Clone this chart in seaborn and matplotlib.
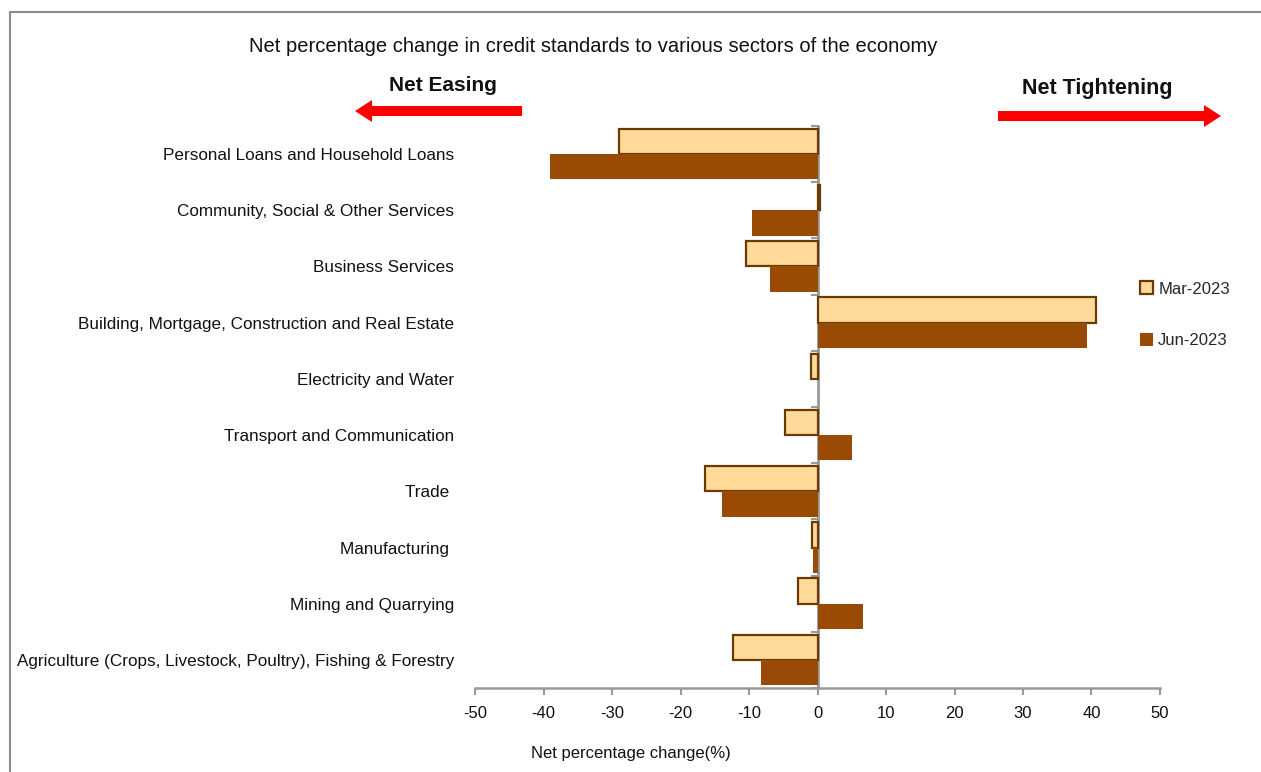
import pandas as pd
import seaborn as sns
import matplotlib.pyplot as plt
from matplotlib.patches import Rectangle, Patch, FancyArrow

sns.set_theme(style="white")
plt.rcParams['font.family'] = ['Liberation Sans Narrow', 'Liberation Sans', 'DejaVu Sans']

# Data
sectors = [
    "Personal Loans and Household Loans",
    "Community, Social & Other Services",
    "Business Services",
    "Building, Mortgage, Construction and Real Estate",
    "Electricity and Water",
    "Transport and Communication",
    "Trade ",
    "Manufacturing ",
    "Mining and Quarrying",
    "Agriculture (Crops, Livestock, Poultry), Fishing & Forestry",
]
mar_2023 = [-29.0, 0.4, -10.4, 40.6, -0.9, -4.8, -16.4, -0.8, -2.8, -12.4]
jun_2023 = [-39.0, -9.6, -6.9, 39.3, 0.0, 5.0, -14.0, -0.6, 6.6, -8.2]
periods = ["Mar-2023", "Jun-2023"]
xticks = list(range(-50, 51, 10))

df = pd.DataFrame({
    "sector": sectors * 2,
    "value": mar_2023 + jun_2023,
    "period": [periods[0]] * len(sectors) + [periods[1]] * len(sectors),
})

fill_mar = "#FFDA99"
fill_jun = "#994A04"
edge_dark = "#6B3A00"
axis_grey = "#999999"

fig = plt.figure(figsize=(12.61, 7.72), dpi=100)
ax = fig.add_axes([0.3767, 0.1088, 0.5432, 0.728])

sns.barplot(data=df, x="value", y="sector", hue="period", orient="h",
            palette=[fill_mar, fill_jun], width=0.9, ax=ax, legend=False,
            saturation=1)

# edge only on Mar bars
for bar in ax.containers[0]:
    bar.set_edgecolor(edge_dark)
    bar.set_linewidth(1.6)
for bar in ax.containers[1]:
    bar.set_edgecolor("none")

ax.set_xlim(-50, 50)
ax.set_ylim(len(sectors) - 0.5, -0.5)
ax.set_xticks(xticks)
ax.set_xticklabels([str(t) for t in xticks], fontsize=12)
ax.tick_params(axis="x", bottom=True, direction="out", length=5, width=1.5,
               color=axis_grey, pad=8)
ax.tick_params(axis="y", left=False, length=0, pad=15, labelsize=12.3)
for lbl in ax.get_yticklabels() + ax.get_xticklabels():
    lbl.set_color("#111111")

for side in ["top", "right", "left"]:
    ax.spines[side].set_visible(False)
ax.spines["bottom"].set_color(axis_grey)
ax.spines["bottom"].set_linewidth(1.8)

# zero axis with ticks between categories
zax = ax.secondary_yaxis(0.5)
zax.set_alignment("left")
zax.set_yticks([i - 0.5 for i in range(len(sectors) + 1)])
zax.set_yticklabels([])
zax.tick_params(axis="y", direction="out", length=5, width=1.5, color=axis_grey)
for side in ["left", "right"]:
    zax.spines[side].set_color(axis_grey)
    zax.spines[side].set_linewidth(2)

ax.set_ylabel("")
ax.set_xlabel("Net percentage change(%)", fontsize=12, color="#111111")
ax.xaxis.set_label_coords(0.228, -0.104)

# heading and annotations
fig.text(0.4705, 0.94, "Net percentage change in credit standards to various sectors of the economy",
         ha="center", va="center", fontsize=14.5, color="#111111")
fig.text(0.351, 0.889, "Net Easing", ha="center", va="center", fontsize=15,
         fontweight="bold", color="#111111")
fig.text(0.870, 0.886, "Net Tightening", ha="center", va="center", fontsize=15.5,
         fontweight="bold", color="#111111")
fig.add_artist(FancyArrow(0.414, 0.8562, -0.1325, 0, width=0.013, head_width=0.0285,
                          head_length=0.0135, length_includes_head=True,
                          transform=fig.transFigure, color="red", linewidth=0))
fig.add_artist(FancyArrow(0.7914, 0.8497, 0.1769, 0, width=0.013, head_width=0.0285,
                          head_length=0.0135, length_includes_head=True,
                          transform=fig.transFigure, color="red", linewidth=0))

handles = [Patch(facecolor=fill_mar, edgecolor=edge_dark, linewidth=1.6),
           Patch(facecolor=fill_jun, edgecolor="none")]
fig.legend(handles, periods, loc="upper left", bbox_to_anchor=(0.892, 0.655),
           frameon=False, fontsize=12, handlelength=0.8, handleheight=0.8,
           handletextpad=0.3, labelspacing=2.2)

# outer frame
fig.add_artist(Rectangle((0.008, -0.05), 1.2, 1.035, transform=fig.transFigure,
                         fill=False, edgecolor="#8c8c8c", linewidth=1.5))

fig.savefig("out.png", dpi=100)
